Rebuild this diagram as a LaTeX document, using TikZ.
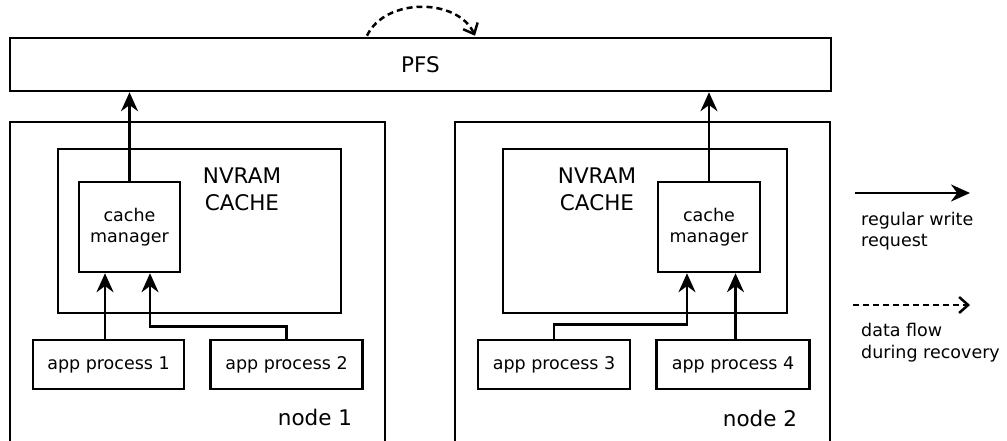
\documentclass[tikz,border=0pt]{standalone}
\usepackage{fontspec}
\setmainfont{DejaVu Sans}
\usetikzlibrary{arrows.meta}
\usetikzlibrary{positioning}
\tikzset{
    big/.style={font=\fontsize{21.5}{27}\selectfont},
    small/.style={font=\fontsize{17.5}{21.5}\selectfont}
}

\begin{document}
\begin{tikzpicture}[
        x=1pt, y=1pt,
        box/.style={rectangle, draw=black, line width=2.5pt, inner sep=0pt},
        app/.style={box, small, minimum height=49pt},
        manager/.style={box, small, align=center, minimum height=90pt},
        write/.style={line width=2.5pt, -{Stealth[length=19pt,width=17pt]}},
        flow/.style={line width=2.5pt, dash pattern=on 6pt off 4pt, -{Straight Barb[length=9pt,width=16pt]}},
    ]
    \useasboundingbox (0,0) rectangle (1007,441);

    \node[box, minimum width=375pt, minimum height=338pt] (H1) at (197.5,150) {};
    \node[box, minimum width=375pt, minimum height=338pt] (H2) at (642.5,150) {};

    \node[box, big, minimum width=821pt, minimum height=53pt] (PFS) at (420.5,376.5) {PFS};

    \node[box, minimum width=283pt, minimum height=164pt] (NV1) at (199.5,210) {};
    \node[box, minimum width=284pt, minimum height=164pt] (NV2) at (645,210) {};
    \node[big, align=center] (T1) at (242,251.5) {NVRAM\\CACHE};
    \node[big, align=center] (T2) at (597,251.5) {NVRAM\\CACHE};

    \node[manager, minimum width=101pt] (CM1) at (129.5,214) {cache\\manager};
    \node[manager, minimum width=102pt] (CM2) at (709,214) {cache\\manager};

    \node[app, minimum width=151pt] (A1) at (108.5,76.5)  {app process 1};
    \node[app, minimum width=152pt] (A2) [right=24pt of A1] {app process 2};
    \node[app, minimum width=152pt] (A3) at (554,76.5)    {app process 3};
    \node[app, minimum width=153pt] (A4) [right=24pt of A3] {app process 4};

    \node[big] (L1) at (315,24) {node 1};
    \node[big] (L2) at (760,23) {node 2};

    \draw[write] (CM1.north) -- (CM1.north |- PFS.south);
    \draw[write] (CM2.north) -- (CM2.north |- PFS.south);

    \draw[write] ([xshift=-3.5pt]A1.north) -- ([xshift=-3.5pt]A1.north |- CM1.south);
    \draw[write] (A2.north) -- ++(0,12) -| ([xshift=20.5pt]CM1.south);
    \draw[write] (A3.north) -- ++(0,14) -| ([xshift=-22pt]CM2.south);
    \draw[write] ([xshift=2.5pt]A4.north) -- ([xshift=2.5pt]A4.north |- CM2.south);

    \draw[flow] ([xshift=-53.5pt,yshift=1pt]PFS.north) to[out=65,in=115] ([xshift=54.5pt,yshift=1pt]PFS.north);

    \coordinate (W0) at (855,248);
    \coordinate (W1) at (970,248);
    \draw[write] (W0) -- (W1);
    \node[small, align=left, anchor=west, inner sep=0pt] (WT) at (861,210) {regular write\\request};

    \coordinate (F0) at (853,136);
    \coordinate (F1) at (970,136);
    \draw[flow] (F0) -- (F1);
    \node[small, align=left, anchor=west, inner sep=0pt] (FT) at (861,98.5) {data flow\\during recovery};

\end{tikzpicture}
\end{document}
